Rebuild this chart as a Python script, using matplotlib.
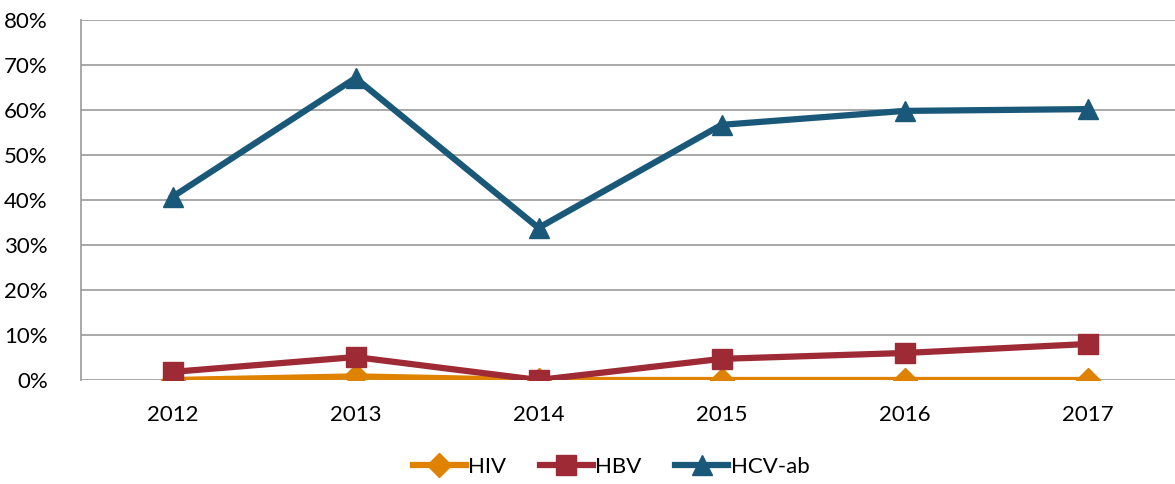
import matplotlib.pyplot as plt
import numpy as np

years = ['2012', '2013', '2014', '2015', '2016', '2017']
hiv = [0.0, 0.8, 0.0, 0.0, 0.0, 0.0]
hbv = [1.8, 5.1, 0.0, 4.7, 6.0, 8.0]
hcv = [40.7, 67.1, 33.8, 56.7, 59.8, 60.2]

plt.rcParams['font.family'] = ['Lato', 'DejaVu Sans']

fig = plt.figure(figsize=(11.75, 4.84), dpi=100)
ax = fig.add_axes([81/1175, 1 - 380/484, 1098/1175, 360/484])

x = np.arange(len(years))
ax.plot(x, hiv, color='#DF8200', lw=4.5, marker='D', ms=12, label='HIV', zorder=3)
ax.plot(x, hbv, color='#9E2A36', lw=4.5, marker='s', ms=14, label='HBV', zorder=4)
ax.plot(x, hcv, color='#1A587A', lw=4.5, marker='^', ms=15, label='HCV-ab', zorder=5)

ax.set_xlim(-0.5, 5.5)
ax.set_ylim(0, 80)
ax.set_yticks(np.arange(0, 81, 10))
ax.set_yticklabels([f'{v}%' for v in range(0, 81, 10)])
ax.set_xticks(x)
ax.set_xticklabels(years)
ax.tick_params(length=0, labelsize=16, colors='black')
ax.tick_params(axis='x', pad=18)
ax.tick_params(axis='y', pad=24)
ax.grid(axis='y', color='#999999', lw=1.2)
ax.set_axisbelow(True)
for s in ['top', 'right', 'bottom']:
    ax.spines[s].set_visible(False)
ax.spines['left'].set_color('#999999')
ax.spines['left'].set_linewidth(1.2)

fig.legend(loc='center', bbox_to_anchor=(0.52, 1 - 467/484), ncol=3, frameon=False,
           fontsize=16, handlelength=2.4, handletextpad=0.1, columnspacing=1.5)

fig.savefig('out.png', dpi=100)
